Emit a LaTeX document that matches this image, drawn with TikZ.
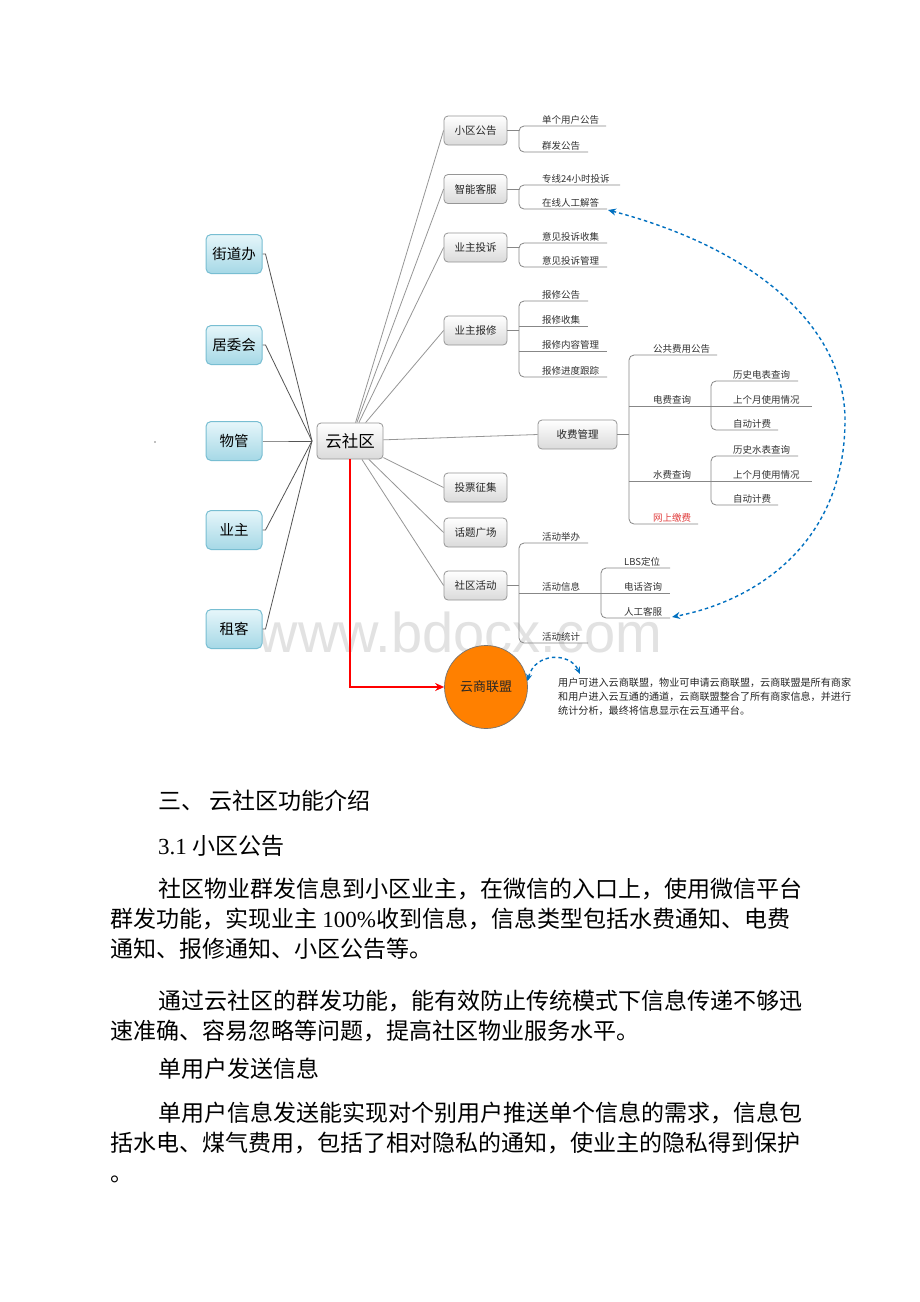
\documentclass[tikz,border=0pt]{standalone}
\usepackage{fontspec}
\setmainfont{Noto Sans CJK SC}
\newfontfamily\wmfont{Liberation Sans}
\newfontfamily\latinserif{Liberation Serif}
\usetikzlibrary{arrows.meta}
\definecolor{boxborder}{RGB}{150,150,150}
\definecolor{boxbot}{RGB}{218,218,218}
\definecolor{cyantop}{RGB}{230,246,250}
\definecolor{cyanbot}{RGB}{165,216,230}
\definecolor{cyanborder}{RGB}{120,190,210}
\definecolor{linkgray}{RGB}{150,150,150}
\definecolor{leftlink}{RGB}{85,85,85}
\definecolor{leafcol}{RGB}{135,135,135}
\definecolor{dashblue}{RGB}{0,112,192}
\definecolor{orangefill}{RGB}{255,128,0}
\definecolor{wmgray}{RGB}{226,226,226}
\definecolor{textred}{RGB}{225,60,60}
\begin{document}
\begin{tikzpicture}[x=1pt,y=-1pt,
  gbox/.style={draw=boxborder, line width=0.8pt, rounded corners=4pt, top color=white, bottom color=boxbot,
    minimum width=63pt, minimum height=29pt, inner sep=0pt, font=\fontsize{10.5}{12}\selectfont, text=black!85},
  cbox/.style={draw=cyanborder, line width=1pt, rounded corners=5pt, top color=cyantop, bottom color=cyanbot,
    minimum width=56pt, minimum height=39pt, inner sep=0pt, font=\fontsize{14.5}{16}\selectfont},
  leaf/.style={anchor=base west, inner sep=0pt, font=\fontsize{9.5}{11}\selectfont, text=black!80},
  leafline/.style={draw=leafcol, line width=0.8pt, rounded corners=5pt},
  mainlink/.style={draw=linkgray, line width=0.8pt},
  leftlinkst/.style={draw=leftlink, line width=0.8pt},
  bluedash/.style={draw=dashblue, line width=1.4pt, dash pattern=on 3.5pt off 3pt},
  body/.style={anchor=base west, inner sep=0pt, font=\fontsize{23}{28}\selectfont},
  desc/.style={anchor=west, inner sep=0pt, font=\fontsize{10.1}{12}\selectfont, text=black!85}
]
\useasboundingbox (0,0) rectangle (920,1302);
\fill[white] (0,0) rectangle (920,1302);

% watermark
\node[anchor=base, inner sep=0pt, font=\wmfont\fontsize{56}{60}\selectfont, text=wmgray] (wm) at (460,652) {www.bdocx.com};

% center
\node[gbox, minimum width=66pt, minimum height=36pt, font=\fontsize{16.5}{18}\selectfont, text=black] (yun) at (350,441) {云社区};
\coordinate (hub) at (312,441);

% left boxes
\node[cbox] (jd) at (234,254) {街道办};
\node[cbox] (jw) at (234,345) {居委会};
\node[cbox] (wg) at (234,441) {物管};
\node[cbox] (yz) at (234,530) {业主};
\node[cbox] (zk) at (234,629) {租客};
\foreach \n in {jd,jw,wg,yz,zk}{
  \draw[leftlinkst] (\n.east) -- ++(3,0) -- (hub);
}
\fill[gray] (155,442) circle (0.8);

% right boxes
\node[gbox] (xq) at (475.5,130.5) {小区公告};
\node[gbox] (zn) at (475.5,189) {智能客服};
\node[gbox] (ts) at (475.5,247.5) {业主投诉};
\node[gbox] (bx) at (475.5,330.5) {业主报修};
\node[gbox, minimum width=79pt] (sf) at (577.5,434.5) {收费管理};
\node[gbox] (tp) at (475.5,487.5) {投票征集};
\node[gbox] (ht) at (475.5,532.5) {话题广场};
\node[gbox] (hd) at (475.5,585.5) {社区活动};
\foreach \n in {xq,zn,ts,bx,sf,tp,ht,hd}{
  \draw[mainlink] (yun) -- (\n.west);
}

% 小区公告
\draw[leafline] (xq.east) -- (519,130.5);
\draw[leafline] (606,126) -- (519,126) -- (519,152) -- (588,152);
\node[leaf] (x1) at (542,123) {单个用户公告};
\node[leaf] (x2) at (542,149) {群发公告};

% 智能客服
\draw[leafline] (zn.east) -- (519,189);
\draw[leafline] (620,185) -- (519,185) -- (519,209) -- (607,209);
\node[leaf] (z1) at (542,182) {专线24小时投诉};
\node[leaf] (z2) at (542,206) {在线人工解答};
\coordinate (z2end) at (608,210);

% 业主投诉
\draw[leafline] (ts.east) -- (519,247.5);
\draw[leafline] (607,243) -- (519,243) -- (519,267) -- (607,267);
\node[leaf] (t1) at (542,240) {意见投诉收集};
\node[leaf] (t2) at (542,264) {意见投诉管理};

% 业主报修
\draw[leafline] (bx.east) -- (519,330.5);
\draw[leafline] (588,301) -- (519,301) -- (519,377) -- (607,377);
\draw[leafline] (519,326) -- (588,326);
\draw[leafline] (519,351) -- (607,351);
\node[leaf] (b1) at (542,298) {报修公告};
\node[leaf] (b2) at (542,323) {报修收集};
\node[leaf] (b3) at (542,348) {报修内容管理};
\node[leaf] (b4) at (542,374) {报修进度跟踪};

% 收费管理
\draw[leafline] (sf.east) -- (629,434.5);
\draw[leafline] (717,355) -- (629,355) -- (629,524) -- (698,524);
\draw[leafline] (629,406) -- (711,406);
\draw[leafline] (798,381) -- (711,381) -- (711,430) -- (778,430);
\draw[leafline] (711,406) -- (812,406);
\draw[leafline] (629,481) -- (711,481);
\draw[leafline] (798,456) -- (711,456) -- (711,505) -- (778,505);
\draw[leafline] (711,481) -- (812,481);
\node[leaf] (s1) at (653,352) {公共费用公告};
\node[leaf] (s2) at (653,403) {电费查询};
\node[leaf] (s3) at (653,478) {水费查询};
\node[leaf, text=textred] (s4) at (653,521) {网上缴费};
\node[leaf] (e1) at (733,378) {历史电表查询};
\node[leaf] (e2) at (733,403) {上个月使用情况};
\node[leaf] (e3) at (733,427) {自动计费};
\node[leaf] (w1) at (733,453) {历史水表查询};
\node[leaf] (w2) at (733,478) {上个月使用情况};
\node[leaf] (w3) at (733,502) {自动计费};

% 社区活动
\draw[leafline] (hd.east) -- (519,585.5);
\draw[leafline] (588,543) -- (519,543) -- (519,643) -- (588,643);
\draw[leafline] (519,593) -- (601,593);
\draw[leafline] (670,568) -- (601,568) -- (601,618) -- (670,618);
\draw[leafline] (601,593) -- (670,593);
\node[leaf] (h1) at (542,540) {活动举办};
\node[leaf] (h2) at (542,590) {活动信息};
\node[leaf] (h3) at (542,640) {活动统计};
\node[leaf] (a1) at (624,565) {LBS定位};
\node[leaf] (a2) at (624,590) {电话咨询};
\node[leaf] (a3) at (624,615) {人工客服};
\coordinate (a3end) at (672,617);

% big blue dashed double arrow
\draw[bluedash, {Stealth[length=8pt,width=7pt]}-{Stealth[length=8pt,width=7pt]}]
  (z2end) .. controls (760,250) and (845,330) .. (845,420)
  .. controls (845,540) and (760,600) .. (a3end);

% 云商联盟
\node[circle, draw=black!55, line width=0.7pt, fill=orangefill, minimum size=83pt, inner sep=0pt,
  font=\fontsize{13}{15}\selectfont, text=black!85] (um) at (486,687) {云商联盟};
\draw[red, line width=1.4pt, -{Stealth[length=9pt,width=8pt]}] (yun.south) |- (um.west);
\coordinate (sb) at (580,674);
\draw[bluedash, {Stealth[length=7pt,width=6pt]}-{Stealth[length=7pt,width=6pt]}]
  (um.8) .. controls (535,652) and (570,652) .. (sb);

\node[desc] (d1) at (558,683) {用户可进入云商联盟，物业可申请云商联盟，云商联盟是所有商家};
\node[desc] (d2) at (558,697) {和用户进入云互通的通道，云商联盟整合了所有商家信息，并进行};
\node[desc] (d3) at (558,711) {统计分析，最终将信息显示在云互通平台。};

% body text
\node[body] (p0) at (158,809) {三、 云社区功能介绍};
\node[body] (p1) at (158,854) {{\latinserif 3.1} 小区公告};
\node[body] (p2a) at (158,897) {社区物业群发信息到小区业主，在微信的入口上，使用微信平台};
\node[body] (p2b) at (110,927) {群发功能，实现业主 {\latinserif 100\%}收到信息，信息类型包括水费通知、电费};
\node[body] (p2c) at (110,957) {通知、报修通知、小区公告等。};
\node[body] (p3a) at (158,1009) {通过云社区的群发功能，能有效防止传统模式下信息传递不够迅};
\node[body] (p3b) at (110,1039) {速准确、容易忽略等问题，提高社区物业服务水平。};
\node[body] (p4) at (158,1077) {单用户发送信息};
\node[body] (p5a) at (158,1121) {单用户信息发送能实现对个别用户推送单个信息的需求，信息包};
\node[body] (p5b) at (110,1151) {括水电、煤气费用，包括了相对隐私的通知，使业主的隐私得到保护};
\node[body] (p5c) at (110,1181) {。};
\end{tikzpicture}
\end{document}
